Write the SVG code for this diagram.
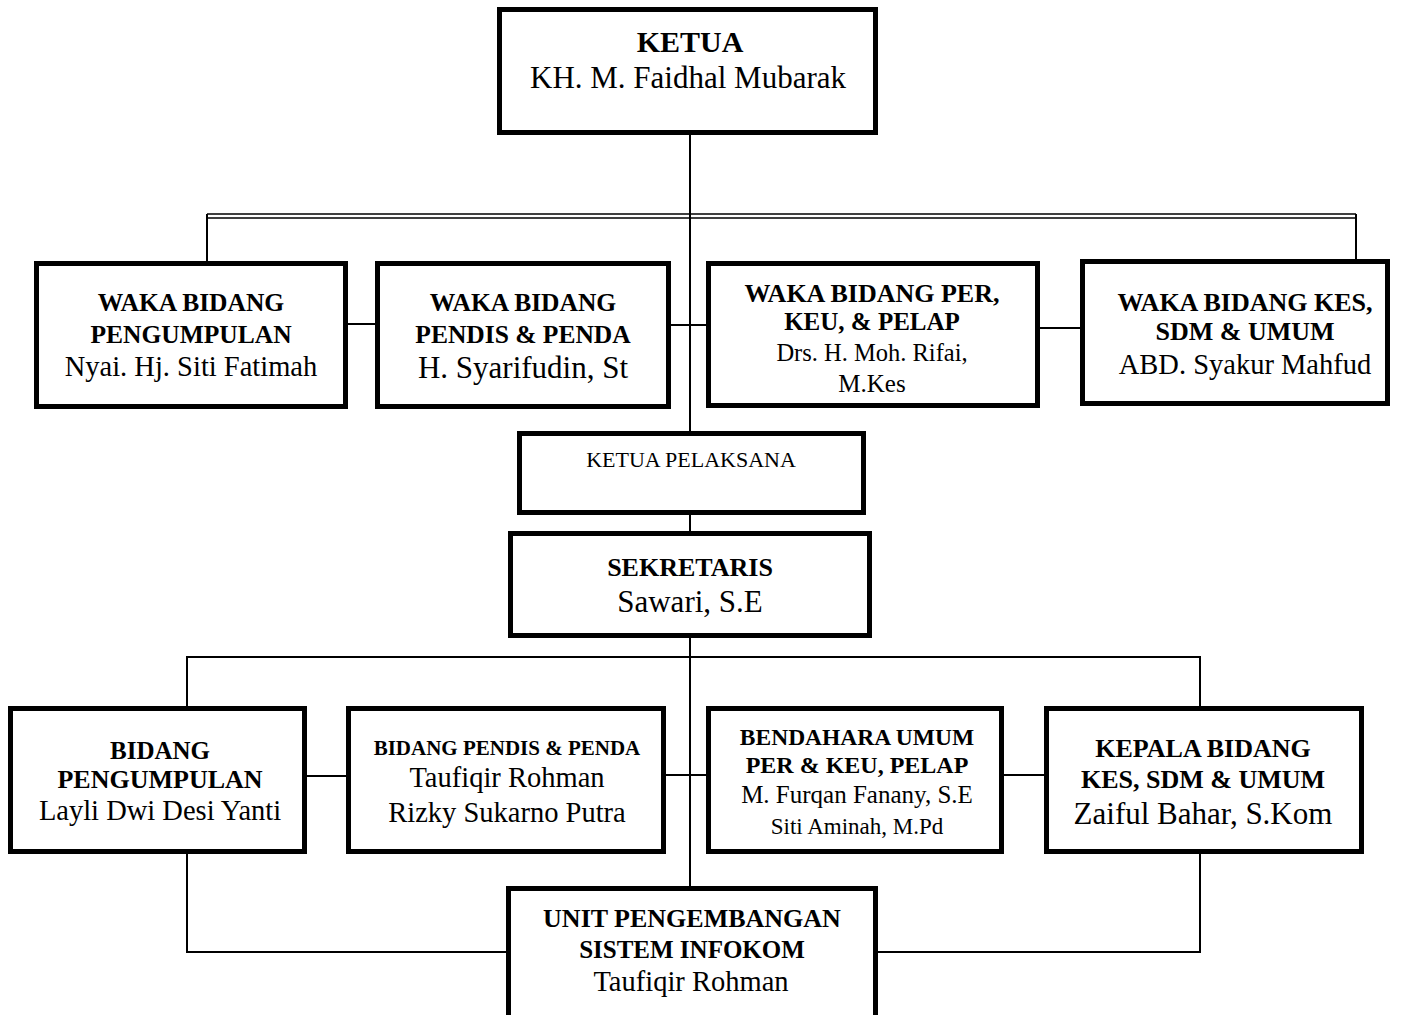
<svg xmlns="http://www.w3.org/2000/svg" width="1416" height="1015" viewBox="0 0 1416 1015">
<style>
.box{fill:#fff;stroke:#000;stroke-width:5}
.ln{fill:none;stroke:#000;stroke-width:2}
.th{fill:none;stroke:#000;stroke-width:1.3}
text{font-family:"Liberation Serif","Times New Roman",serif;text-anchor:middle;fill:#000}
.b{font-weight:bold}
</style>
<rect width="1416" height="1015" fill="#fff"/>
<g id="connectors">
<path class="ln" d="M690 135V433M690 512V533M690 636V888"/>
<path class="th" d="M207 214H1356M207 218H1356"/>
<path class="ln" d="M207 214V263M1356 214V261"/>
<path class="ln" d="M348 324H375M671 325H706M1040 328H1080"/>
<path class="ln" d="M187 706V657H1200V706"/>
<path class="ln" d="M307 776H346M666 775H706M1004 775H1044"/>
<path class="ln" d="M187 854V952H508M1200 854V952H878"/>
</g>
<g id="ketua">
<rect class="box" x="499.5" y="9.5" width="376" height="123"/>
<text class="b" x="690" y="52" font-size="30">KETUA</text>
<text x="688" y="88" font-size="31">KH. M. Faidhal Mubarak</text>
</g>
<g id="waka-pengumpulan">
<rect class="box" x="36.5" y="263.5" width="309" height="143"/>
<text class="b" x="191" y="311" font-size="25.5">WAKA BIDANG</text>
<text class="b" x="191" y="343" font-size="25.5">PENGUMPULAN</text>
<text x="191" y="376" font-size="28.5">Nyai. Hj. Siti Fatimah</text>
</g>
<g id="waka-pendis">
<rect class="box" x="377.5" y="263.5" width="291" height="143"/>
<text class="b" x="523" y="311" font-size="25.5">WAKA BIDANG</text>
<text class="b" x="523" y="343" font-size="25.5">PENDIS &amp; PENDA</text>
<text x="523" y="378" font-size="31">H. Syarifudin, St</text>
</g>
<g id="waka-per">
<rect class="box" x="708.5" y="263.5" width="329" height="142"/>
<text class="b" x="872" y="302" font-size="26">WAKA BIDANG PER,</text>
<text class="b" x="872" y="330" font-size="25">KEU, &amp; PELAP</text>
<text x="872" y="361" font-size="24.5">Drs. H. Moh. Rifai,</text>
<text x="872" y="392" font-size="25">M.Kes</text>
</g>
<g id="waka-kes">
<rect class="box" x="1082.5" y="261.5" width="305" height="142"/>
<text class="b" x="1245" y="311" font-size="26">WAKA BIDANG KES,</text>
<text class="b" x="1245" y="340" font-size="26">SDM &amp; UMUM</text>
<text x="1245" y="374" font-size="28.5">ABD. Syakur Mahfud</text>
</g>
<g id="ketua-pelaksana">
<rect class="box" x="519.5" y="433.5" width="344" height="79"/>
<text x="691" y="467" font-size="22">KETUA PELAKSANA</text>
</g>
<g id="sekretaris">
<rect class="box" x="510.5" y="533.5" width="359" height="102"/>
<text class="b" x="690" y="576" font-size="26">SEKRETARIS</text>
<text x="690" y="612" font-size="31">Sawari, S.E</text>
</g>
<g id="bidang-pengumpulan">
<rect class="box" x="10.5" y="708.5" width="294" height="143"/>
<text class="b" x="160" y="759" font-size="25">BIDANG</text>
<text class="b" x="160" y="788" font-size="26">PENGUMPULAN</text>
<text x="160" y="820" font-size="28.5">Layli Dwi Desi Yanti</text>
</g>
<g id="bidang-pendis">
<rect class="box" x="348.5" y="708.5" width="315" height="143"/>
<text class="b" x="507" y="755" font-size="21">BIDANG PENDIS &amp; PENDA</text>
<text x="507" y="787" font-size="28.5">Taufiqir Rohman</text>
<text x="507" y="822" font-size="28.5">Rizky Sukarno Putra</text>
</g>
<g id="bendahara">
<rect class="box" x="708.5" y="708.5" width="293" height="143"/>
<text class="b" x="857" y="745" font-size="23.5">BENDAHARA UMUM</text>
<text class="b" x="857" y="773" font-size="24">PER &amp; KEU, PELAP</text>
<text x="857" y="803" font-size="25">M. Furqan Fanany, S.E</text>
<text x="857" y="834" font-size="23">Siti Aminah, M.Pd</text>
</g>
<g id="kepala-kes">
<rect class="box" x="1046.5" y="708.5" width="315" height="143"/>
<text class="b" x="1203" y="757" font-size="26">KEPALA BIDANG</text>
<text class="b" x="1203" y="788" font-size="26">KES, SDM &amp; UMUM</text>
<text x="1203" y="824" font-size="31">Zaiful Bahar, S.Kom</text>
</g>
<g id="unit-infokom">
<rect class="box" x="508.5" y="888.5" width="367" height="140"/>
<text class="b" x="692" y="927" font-size="26">UNIT PENGEMBANGAN</text>
<text class="b" x="692" y="958" font-size="25">SISTEM INFOKOM</text>
<text x="691" y="991" font-size="28.5">Taufiqir Rohman</text>
</g>
</svg>
